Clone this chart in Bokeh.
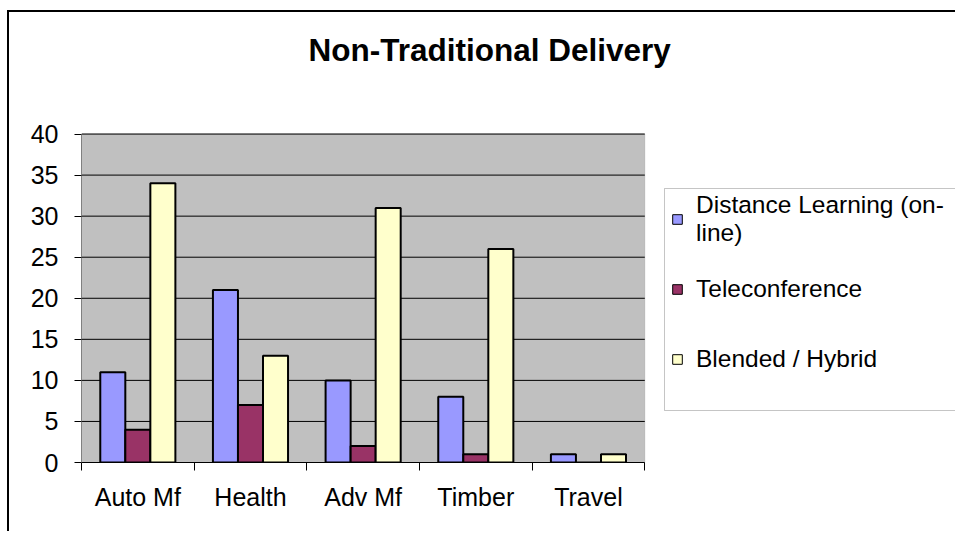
from bokeh.plotting import figure
from bokeh.models import (ColumnDataSource, FixedTicker, Legend, LegendItem,
                          Range1d, Label, BoxAnnotation)
from bokeh.embed import file_html
from bokeh.resources import INLINE

# ---- data ----
categories = ["Auto Mf", "Health", "Adv Mf", "Timber", "Travel"]
series_names = ["Distance Learning (on-\nline)", "Teleconference", "Blended / Hybrid"]
distance_learning = [11, 21, 10, 8, 1]
teleconference = [4, 7, 2, 1, 0]
blended_hybrid = [34, 13, 31, 26, 1]
y_ticks = [0, 5, 10, 15, 20, 25, 30, 35, 40]
title_text = "Non-Traditional Delivery"

colors = ["#9999FF", "#993366", "#FFFFCC"]
FONT = "Liberation Sans"
n = len(categories)
y_max = y_ticks[-1]

# ---- layout (canvas pixels) ----
W, H = 946, 519
AREA_L, AREA_R, AREA_T, AREA_B = 72, 634, 121, 448   # grey plot area
px_x = (AREA_R - AREA_L) / n
px_y = (AREA_B - AREA_T) / y_max
x_start = -0.5
x_end = (n - 0.5) + (W - AREA_R) / px_x
y_end = y_max + AREA_T / px_y

p = figure(width=W, height=H,
           x_range=Range1d(x_start, x_end), y_range=Range1d(0, y_end),
           output_backend="svg", toolbar_location=None,
           min_border_left=AREA_L, min_border_right=0,
           min_border_top=0, min_border_bottom=H - AREA_B)
p.styles = {"margin-left": "7px", "margin-top": "10px",
            "border-top": "2px solid black", "border-left": "2px solid black",
            "box-sizing": "content-box"}
p.background_fill_color = "white"
p.border_fill_color = "white"
p.outline_line_color = None
p.xgrid.grid_line_color = None
p.ygrid.grid_line_color = None

# grey plot area
p.add_layout(BoxAnnotation(left=-0.5, right=n - 0.5, bottom=0, top=y_max,
                           fill_color="#C0C0C0", fill_alpha=1,
                           line_color="#808080", line_width=1, level="underlay"))

# horizontal gridlines across the plot area
p.segment(x0=[-0.5] * len(y_ticks), x1=[n - 0.5] * len(y_ticks),
          y0=y_ticks, y1=y_ticks, line_color="black", line_width=1)

# bars
gap = 1.5
w = 1.0 / (3 + gap)
for k, vals in enumerate([distance_learning, teleconference, blended_hybrid]):
    src = ColumnDataSource(dict(x=[i + (k - 1) * w for i in range(n)], top=vals))
    p.vbar(x="x", top="top", bottom=0, width=w, source=src,
           fill_color=colors[k], line_color="black", line_width=2)

# legend-only swatch renderers (thin outline), nothing visible in the plot
legend_renderers = []
for k in range(3):
    r = p.vbar(x=[float("nan")], top=[0], bottom=0, width=w,
               fill_color=colors[k], line_color="black", line_width=1)
    legend_renderers.append(r)

# x axis
p.xaxis.bounds = (-0.5, n - 0.5)
p.xaxis.ticker = FixedTicker(ticks=list(range(n)),
                             minor_ticks=[i - 0.5 for i in range(n + 1)])
p.xaxis.major_label_overrides = {i: c for i, c in enumerate(categories)}
p.xaxis.major_tick_line_color = None
p.xaxis.major_tick_out = 0
p.xaxis.major_tick_in = 0
p.xaxis.minor_tick_line_color = "black"
p.xaxis.minor_tick_out = 8
p.xaxis.minor_tick_in = 0
p.xaxis.axis_line_color = "black"
p.xaxis.axis_line_width = 1
p.xaxis.major_label_text_font = FONT
p.xaxis.major_label_text_font_size = "25px"
p.xaxis.major_label_text_color = "black"
p.xaxis.major_label_standoff = 12

# y axis
p.yaxis.bounds = (0, y_max)
p.yaxis.ticker = FixedTicker(ticks=y_ticks)
p.yaxis.major_tick_out = 7
p.yaxis.major_tick_in = 0
p.yaxis.major_tick_line_color = "black"
p.yaxis.minor_tick_line_color = None
p.yaxis.axis_line_color = "#808080"
p.yaxis.major_label_text_font = FONT
p.yaxis.major_label_text_font_size = "25px"
p.yaxis.major_label_text_color = "black"
p.yaxis.major_label_standoff = 16

# title
p.add_layout(Label(x=227, y=AREA_B - 35, x_units="screen", y_units="screen",
                   text=title_text, text_font=FONT, text_font_size="31.5px",
                   text_font_style="bold", text_color="black",
                   text_baseline="alphabetic", text_align="left"))

# legend box: its right edge runs past the chart's edge, as in the original
BOX_X, BOX_B, BOX_T = 583, 52, 274
p.add_layout(BoxAnnotation(left=BOX_X, right=BOX_X + 2000, bottom=BOX_B, top=BOX_T,
                           left_units="screen", right_units="screen",
                           bottom_units="screen", top_units="screen",
                           fill_color="white", fill_alpha=1,
                           line_color="#404040", line_width=1, level="annotation"))

# legend entries
items = [LegendItem(label=series_names[k], renderers=[legend_renderers[k]]) for k in range(3)]
legend = Legend(items=items, location=(590, 73), margin=0, padding=8,
                glyph_width=12, glyph_height=12, label_standoff=13,
                spacing=10, label_height=60, label_width=300,
                label_text_font=FONT, label_text_font_size="24.5px",
                label_text_color="black",
                border_line_color=None, background_fill_alpha=0)
p.add_layout(legend)

open("out.html", "w").write(file_html(p, INLINE))
